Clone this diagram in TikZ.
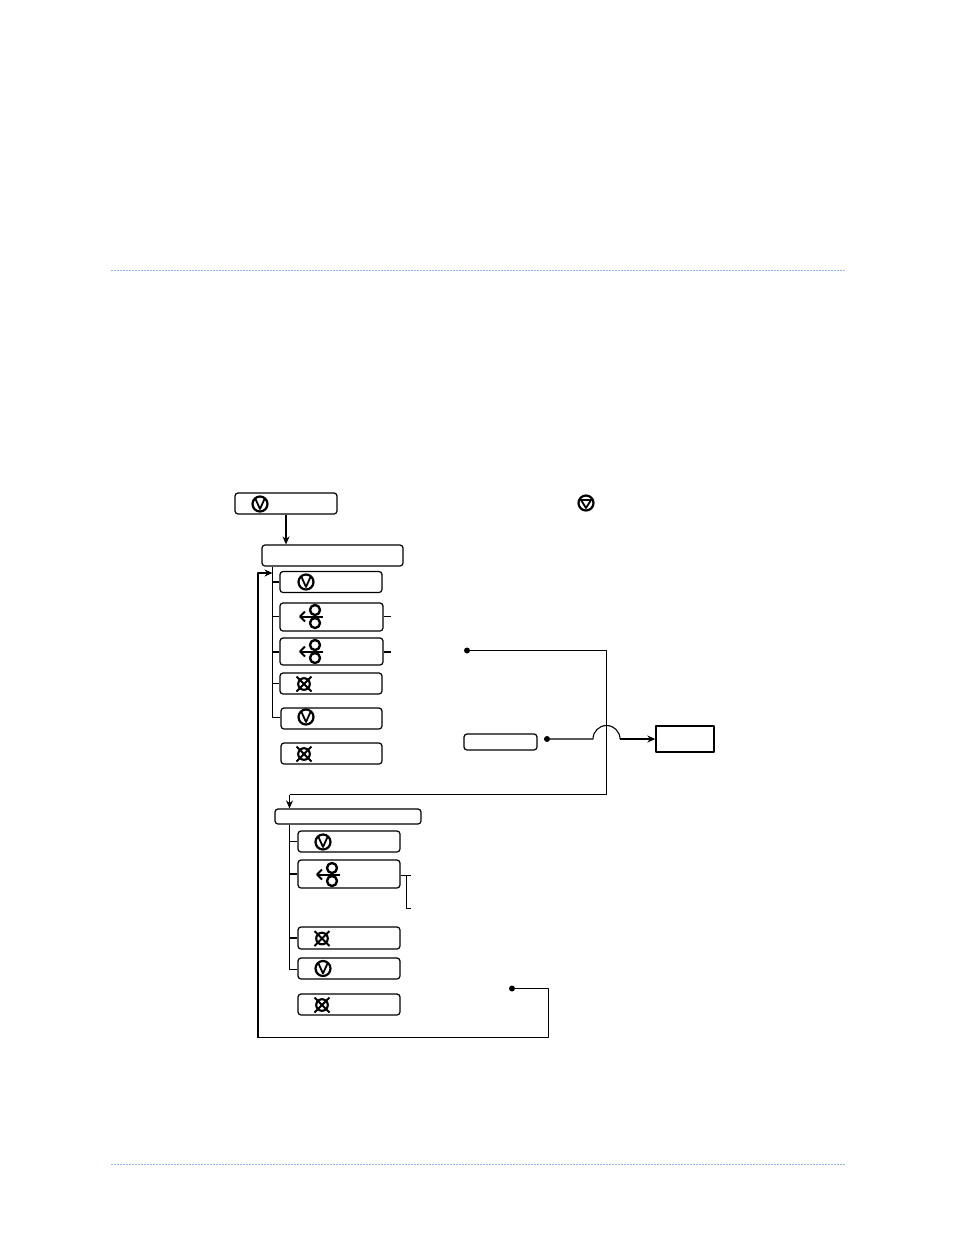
\documentclass[tikz,border=0pt]{standalone}
\usetikzlibrary{positioning,arrows.meta}
\definecolor{rulecolor}{RGB}{150,180,245}
\tikzset{
	keybox/.style={draw,rounded corners=3pt,line width=1.2pt,inner sep=0pt,minimum width=102pt,minimum height=21pt},
	menubox/.style={keybox,minimum width=141pt},
	dotend/.style={circle,fill=black,inner sep=0pt,minimum size=6pt},
	wire/.style={line width=1.1pt},
	heavywire/.style={line width=2pt},
	pageline/.style={rulecolor,line width=1pt,dash pattern=on 2pt off 1pt},
	stopicon/.pic={
		\draw[line width=2.2pt] (0,0) circle (7.5pt);
		\draw[line width=1.8pt] (-4.5,-5)--(0,5)--(4.5,-5);
	},
	cleanicon/.pic={
		\draw[line width=2.1pt] (0,0) circle (5.8pt);
		\draw[line width=1.8pt] (-7.5,-7.5)--(7.5,7.5);
		\draw[line width=1.8pt] (-7.5,7.5)--(7.5,-7.5);
	},
	feedicon/.pic={
		\draw[line width=2.4pt] (0,-6.5) circle (5pt);
		\draw[line width=2.4pt] (0,6.5) circle (5pt);
		\draw[line width=2pt] (-15,0)--(8,0);
		\draw[line width=1.8pt] (-10,-5)--(-15,0)--(-10,5);
	},
}
\begin{document}
\begin{tikzpicture}[>={Stealth[length=8pt,width=7pt]},x=1pt,y=-1pt,line join=round]
	\useasboundingbox (0,0) rectangle (954,1235);
	\draw[pageline] (111,270)--(845,270);
	\draw[pageline] (111,1164)--(845,1164);

	\node[keybox] (startkey) at (286,503.5) {};
	\node[menubox] (menua) at (332.5,555.5) {};
	\node[keybox] (keyaa) at (331,582) {};
	\node[keybox,minimum width=103pt,minimum height=28pt] (keyab) at (331.5,617) {};
	\node[keybox,minimum width=103pt,minimum height=27pt] (keyac) at (331.5,651.5) {};
	\node[keybox] (keyad) at (331,683.5) {};
	\node[keybox,minimum width=101pt] (keyae) at (331.5,718.5) {};
	\node[keybox,minimum width=101pt] (keyaf) at (331.5,753.5) {};

	\node[menubox,minimum width=146pt,minimum height=15pt] (menub) at (348,816.5) {};
	\node[keybox] (keyba) at (349,841.5) {};
	\node[keybox,minimum height=28pt] (keybb) at (349,874) {};
	\node[keybox,minimum height=22pt] (keybc) at (349,938) {};
	\node[keybox] (keybd) at (349,968.5) {};
	\node[keybox] (keybe) at (349,1004.5) {};

	\node[keybox,minimum width=73pt,minimum height=16pt] (midbox) at (500.5,742) {};
	\node[draw,line width=1.3pt,inner sep=0pt,minimum width=58pt,minimum height=26pt] (endbox) at (685,739) {};

	\node[dotend] (dota) at (467,650.5) {};
	\node[dotend] (dotb) at (547,739) {};
	\node[dotend] (dotc) at (512,988.5) {};

	\coordinate (trunka) at (272.5,717.5);
	\coordinate (trunkb) at (289.5,969.5);
	\coordinate (hopa) at (593,739);
	\coordinate (hopb) at (620,739);
	\coordinate (cornerb) at (606.5,794.5);
	\coordinate (cornerd) at (548.5,1037.5);
	\coordinate (cornere) at (258,1037.5);
	\coordinate (stubab) at (391,616.5);
	\coordinate (stubac) at (391,652);
	\coordinate (brackettop) at (411,875.5);
	\coordinate (bracketend) at (411,908.5);
	\coordinate (bracketmid) at (406.5,875.5);

	\draw[->,heavywire] (startkey.south)--(startkey.south |- menua.north);
	\draw[wire] (menua.south -| trunka)--(trunka)--(keyae.west |- trunka);
	\draw[wire] (trunka |- keyaa)--(keyaa);
	\draw[wire] (trunka |- stubab)--(keyab.west |- stubab);
	\draw[heavywire] (trunka |- stubac)--(keyac.west |- stubac);
	\draw[wire] (trunka |- keyad)--(keyad);
	\draw[wire] (keyab.east |- stubab)--(stubab);
	\draw[wire] (keyac.east |- stubac)--(stubac);

	\draw[wire] (dota) -| (cornerb)--(cornerb -| trunkb);
	\draw[->,wire] (cornerb -| trunkb)--(trunkb |- menub.north);
	\draw[wire] (menub.south -| trunkb)--(trunkb)--(keybd.west |- trunkb);
	\draw[wire] (trunkb |- keyba)--(keyba);
	\draw[heavywire] (trunkb |- keybb)--(keybb);
	\draw[wire] (trunkb |- keybc)--(keybc);
	\draw[wire] (keybb.east |- brackettop)--(brackettop);
	\draw[wire] (bracketmid)--(bracketmid |- bracketend)--(bracketend);

	\draw[wire] (dotb)--(hopa) arc (180:0:13.5pt);
	\draw[->,heavywire] (hopb)--(endbox);

	\draw[wire] (dotc) -| (cornerd)--(cornere);
	\draw[->,heavywire] (cornere)--(258,573)--(trunka |- 0,573);

	\pic at (260,504) {stopicon};
	\pic at (306,582) {stopicon};
	\pic at (315,616.5) {feedicon};
	\pic at (315,651.5) {feedicon};
	\pic at (304,684) {cleanicon};
	\pic at (306,717) {stopicon};
	\pic at (304,754) {cleanicon};
	\pic at (323,842) {stopicon};
	\pic at (332,874.5) {feedicon};
	\pic at (322,938.5) {cleanicon};
	\pic at (323,968.5) {stopicon};
	\pic at (322,1005) {cleanicon};

	\draw[line width=2.2pt] (586,503) circle (7.5pt);
	\draw[line width=1.8pt] (581,500)--(591,500)--(586,508)--cycle;
\end{tikzpicture}
\end{document}
